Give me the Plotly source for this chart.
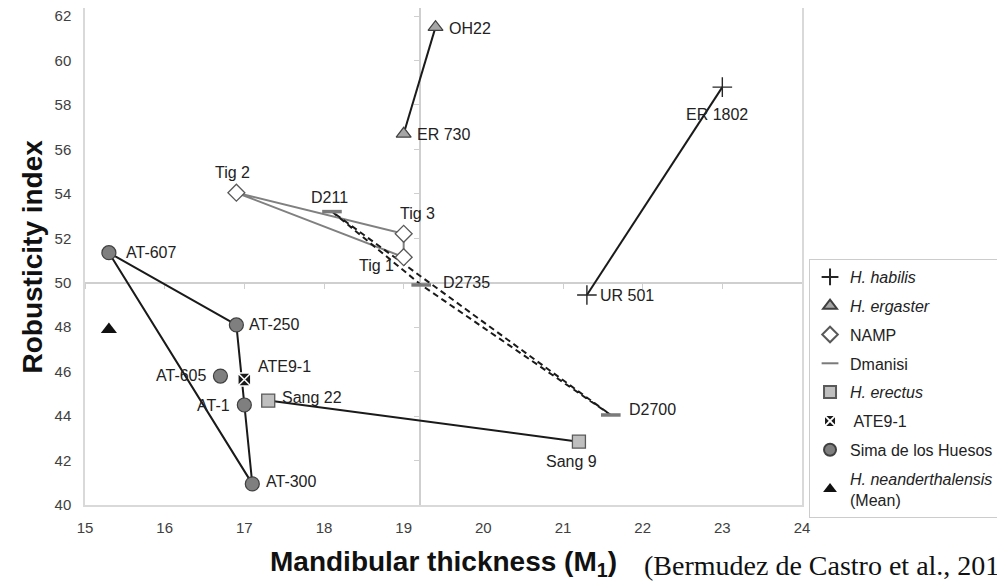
import plotly.graph_objects as go

# ---------------- data ----------------
habilis_names = ["ER 1802", "UR 501"]
habilis_x = [23.0, 21.3]
habilis_y = [58.8, 49.45]

ergaster_names = ["OH22", "ER 730"]
ergaster_x = [19.4, 19.0]
ergaster_y = [61.5, 56.7]

namp_names = ["Tig 2", "Tig 3", "Tig 1"]
namp_x = [16.9, 19.0, 19.0]
namp_y = [54.05, 52.2, 51.15]

dmanisi_names = ["D211", "D2735", "D2700"]
dmanisi_x = [18.1, 19.22, 21.6]
dmanisi_y = [53.2, 49.9, 44.05]

erectus_names = ["Sang 22", "Sang 9"]
erectus_x = [17.3, 21.2]
erectus_y = [44.7, 42.85]

ate_names = ["ATE9-1"]
ate_x = [17.0]
ate_y = [45.65]

sima_names = ["AT-607", "AT-250", "AT-605", "AT-1", "AT-300"]
sima_x = [15.3, 16.9, 16.7, 17.0, 17.1]
sima_y = [51.35, 48.1, 45.8, 44.5, 40.95]

nean_x = [15.3]
nean_y = [47.9]

# polygons / connections (indices into the series)
namp_path = [0, 1, 2, 0]
dmanisi_path = [0, 1, 2, 0]
sima_hull = [0, 1, 4, 0]

x_ticks = list(range(15, 25))
y_ticks = list(range(40, 63, 2))
cross_x = 19.2
cross_y = 50

# ---------------- styling ----------------
FONT = "Liberation Sans, Arial, sans-serif"
fig = go.Figure()


def path(xs, ys, idx):
    return [xs[i] for i in idx], [ys[i] for i in idx]


def line_trace(xs, ys, color, dash="solid", width=2):
    fig.add_trace(go.Scatter(x=xs, y=ys, mode="lines", showlegend=False,
                             hoverinfo="skip",
                             line=dict(color=color, width=width, dash=dash)))


# connecting lines
line_trace(ergaster_x, ergaster_y, "#1a1a1a")
line_trace(habilis_x, habilis_y, "#1a1a1a")
px_, py_ = path(namp_x, namp_y, namp_path)
line_trace(px_, py_, "#808080")
px_, py_ = path(dmanisi_x, dmanisi_y, dmanisi_path)
line_trace(px_, py_, "#1a1a1a", dash="6px,4px")
line_trace(erectus_x, erectus_y, "#1a1a1a")
px_, py_ = path(sima_x, sima_y, sima_hull)
line_trace(px_, py_, "#1a1a1a")

# markers (legend order)
marker_traces = [
    (habilis_x, habilis_y, "<i>H. habilis</i>",
     dict(symbol="cross-thin", size=14, line=dict(color="#262626", width=1.4))),
    (ergaster_x, ergaster_y, "<i>H. ergaster</i>",
     dict(symbol="triangle-up", size=13, color="#a6a6a6",
          line=dict(color="#404040", width=1.2))),
    (namp_x, namp_y, "NAMP",
     dict(symbol="diamond", size=13, color="white",
          line=dict(color="#595959", width=1.3))),
    (dmanisi_x, dmanisi_y, "Dmanisi",
     dict(symbol="line-ew", size=14, line=dict(color="#7a7a7a", width=3.5))),
    (erectus_x, erectus_y, "<i>H. erectus</i>",
     dict(symbol="square", size=13, color="#bfbfbf",
          line=dict(color="#595959", width=1.3))),
    (ate_x, ate_y, " ATE9-1",
     dict(symbol="square-x", size=13, color="#1a1a1a",
          line=dict(color="white", width=1.5))),
    (sima_x, sima_y, "Sima de los Huesos",
     dict(symbol="circle", size=14, color="#7f7f7f",
          line=dict(color="#404040", width=1.2))),
    (nean_x, nean_y, "<i>H. neanderthalensis</i><br>(Mean)",
     dict(symbol="triangle-up", size=14, color="#111111")),
]
for i, (xs, ys, nm, mk) in enumerate(marker_traces):
    fig.add_trace(go.Scatter(x=xs, y=ys, mode="markers", name=nm,
                             legendgroup="g%d" % i, marker=mk))

# dummy trace for the crossing axes
fig.add_trace(go.Scatter(x=[None], y=[None], xaxis="x2", yaxis="y2",
                         showlegend=False, hoverinfo="skip"))

# point labels
label_style = {
    "OH22": ("left", 11, -1), "ER 730": ("left", 11, -1),
    "ER 1802": ("center", -5, -27), "UR 501": ("left", 11, -1),
    "Tig 2": ("center", -4, 20), "Tig 3": ("center", 14, 20),
    "Tig 1": ("center", -27, -8), "D211": ("center", -2, 14),
    "D2735": ("left", 20, 2), "D2700": ("left", 16, 5),
    "Sang 22": ("left", 12, 3), "Sang 9": ("center", -7, -20),
    "ATE9-1": ("left", 12, 13), "AT-250": ("left", 11, 0),
    "AT-605": ("right", -11, 1), "AT-1": ("right", -12, -1),
    "AT-300": ("left", 12, 2), "AT-607": ("left", 15, 0),
}
annotations = []
for names, xs, ys in [(habilis_names, habilis_x, habilis_y),
                      (ergaster_names, ergaster_x, ergaster_y),
                      (namp_names, namp_x, namp_y),
                      (dmanisi_names, dmanisi_x, dmanisi_y),
                      (erectus_names, erectus_x, erectus_y),
                      (ate_names, ate_x, ate_y),
                      (sima_names, sima_x, sima_y)]:
    for n, xv, yv in zip(names, xs, ys):
        anc, xs_, ys_ = label_style[n]
        annotations.append(dict(x=xv, y=yv, xref="x", yref="y", text=n,
                                showarrow=False, xanchor=anc, yanchor="middle",
                                xshift=xs_, yshift=ys_,
                                font=dict(family=FONT, size=16, color="#222222")))

# titles
annotations.append(dict(xref="paper", yref="paper", x=0, y=0.5, xshift=-53,
                        text="<b>Robusticity index</b>", textangle=-90,
                        showarrow=False, xanchor="center", yanchor="middle",
                        font=dict(family=FONT, size=28, color="#111111")))
annotations.append(dict(xref="paper", yref="paper", x=0.5, y=0, yshift=-58,
                        text="<b>Mandibular thickness (M<sub>1</sub>)</b>",
                        showarrow=False, xanchor="center", yanchor="middle",
                        font=dict(family=FONT, size=28, color="#111111")))
annotations.append(dict(xref="paper", yref="paper", x=0, y=0, xshift=557, yshift=-60,
                        text="(Bermudez de Castro et al., 2015)",
                        showarrow=False, xanchor="left", yanchor="middle",
                        font=dict(family="Liberation Serif, Times New Roman, serif",
                                  size=28, color="#111111")))

y_range = [40, 62.36]
x_range = [15, 24]

# the page body has an 8px margin, so the figure is 8px smaller than the window
fig.update_layout(
    width=997, height=574,
    margin=dict(l=77, r=203, t=0, b=77, autoexpand=False),
    plot_bgcolor="white", paper_bgcolor="white",
    font=dict(family=FONT, color="#222222"),
    annotations=annotations,
    legend=dict(x=1.0098, xanchor="left", y=0.495, yanchor="top",
                bordercolor="#cccccc", borderwidth=1, bgcolor="white",
                font=dict(family=FONT, size=16, color="#222222"),
                itemsizing="constant", traceorder="grouped",
                tracegroupgap=5),
    xaxis=dict(range=x_range, tickvals=x_ticks, showgrid=False, zeroline=False,
               showline=True, mirror=True, linecolor="#d9d9d9", linewidth=1.5,
               ticks="", ticklabelstandoff=8, ticklabeloverflow="allow",
               tickfont=dict(family=FONT, size=15, color="#404040")),
    yaxis=dict(range=y_range, tickvals=y_ticks, showgrid=False, zeroline=False,
               showline=True, mirror=True, linecolor="#d9d9d9", linewidth=1.5,
               ticks="", ticklabelstandoff=9, ticklabeloverflow="allow",
               tickfont=dict(family=FONT, size=15, color="#404040")),
    xaxis2=dict(overlaying="x", range=x_range, anchor="free",
                position=(cross_y - y_range[0]) / (y_range[1] - y_range[0]),
                tickvals=x_ticks, showticklabels=False, showgrid=False,
                zeroline=False, showline=True, linecolor="#cfcfcf", linewidth=2,
                ticks="outside", ticklen=5, tickcolor="#cfcfcf",
                layer="below traces"),
    yaxis2=dict(overlaying="y", range=y_range, anchor="free", side="left",
                position=(cross_x - x_range[0]) / (x_range[1] - x_range[0]),
                tickvals=y_ticks, showticklabels=False, showgrid=False,
                zeroline=False, showline=True, linecolor="#cfcfcf", linewidth=2,
                ticks="outside", ticklen=5, tickcolor="#cfcfcf",
                layer="below traces"),
)

fig.write_html("out.html")
